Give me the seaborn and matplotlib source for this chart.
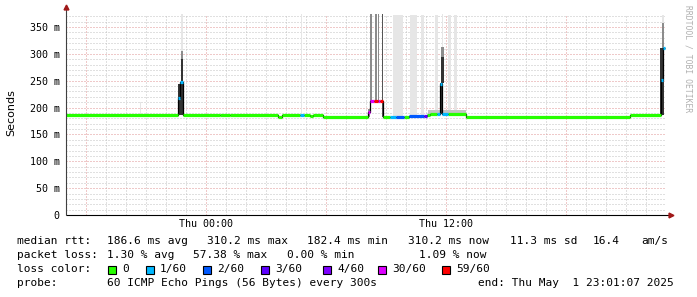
import matplotlib
matplotlib.use("Agg")
import matplotlib.pyplot as plt
from matplotlib.patches import Rectangle
import numpy as np
import pandas as pd
import seaborn as sns

# ---------------- data (hours relative to Thu 00:00, values in ms) ----------------
seg_start = [-6.98, -1.38, -1.28, -1.13, 0.72, 1.22, 3.60, 3.80, 4.70, 4.90, 5.20, 5.35,
             5.85, 8.10, 8.22, 8.40, 8.60, 8.70, 8.87, 9.20, 9.50, 9.90, 10.15, 10.90,
             11.05, 11.20, 11.55, 11.72, 11.82, 12.10, 13.02, 21.20, 22.75, 22.85]
seg_end = [-1.38, -1.28, -1.13, 0.72, 1.22, 3.60, 3.80, 4.70, 4.90, 5.20, 5.35, 5.85,
           8.10, 8.22, 8.40, 8.60, 8.70, 8.87, 9.20, 9.50, 9.90, 10.15, 10.90, 11.05,
           11.20, 11.55, 11.72, 11.82, 12.10, 13.02, 21.20, 22.75, 22.85, 22.95]
seg_ms = [186.6, 218, 248, 186.6, 185.5, 186.6, 183, 186.6, 186, 186.6, 184.5, 186.6,
          182.4, 192, 212, 212, 212, 212, 183, 182.5, 183, 183, 183.5, 184,
          187, 189, 188, 244, 188.5, 189, 182.2, 186.6, 251, 310.2]
seg_loss = ["0", "1/60", "1/60", "0", "0", "0", "0", "0", "1/60", "0", "0", "0",
            "0", "30/60", "30/60", "59/60", "30/60", "59/60", "0", "1/60", "2/60", "0", "2/60", "3/60",
            "0", "0", "1/60", "1/60", "1/60", "0", "0", "0", "1/60", "1/60"]

smoke_t = [-3.28, -1.40, -1.25, -1.25, -1.22, 4.75, 8.10, 8.22, 8.45, 8.62, 8.82,
           9.37, 10.22, 10.75, 11.47, 12.12, 12.42, 11.10, 11.70, 11.78, 11.78, 11.80,
           22.70, 22.82, 22.82]
smoke_w = [0.06, 0.18, 0.12, 0.12, 0.08, 0.06, 0.10, 0.12, 0.10, 0.07, 0.07,
           0.50, 0.35, 0.17, 0.15, 0.15, 0.15, 1.90, 0.17, 0.12, 0.12, 0.07,
           0.22, 0.12, 0.10]
smoke_lo = [186, 186, 186, 290, 305, 187, 183, 212, 212, 212, 183,
            184, 184, 184, 190, 190, 190, 189, 189, 246, 295, 312,
            186, 311, 357]
smoke_hi = [210, 244, 290, 305, 375, 375, 198, 375, 375, 375, 375,
            372, 372, 372, 372, 372, 372, 195, 246, 295, 312, 375,
            311, 357, 372]
smoke_shade = ["light", "dark", "dark", "mid", "light", "light", "mid", "mid", "mid", "mid", "dark2",
               "light", "light", "light", "light", "light", "light", "mid2", "dark", "dark", "mid", "light",
               "dark", "mid", "light"]

loss_labels = ["0", "1/60", "2/60", "3/60", "4/60", "30/60", "59/60"]
loss_colors = ["#26ff00", "#00b8ff", "#0059ff", "#5e00ff", "#7e00ff", "#dd00ff", "#ff0000"]

y_ticks = [0, 50, 100, 150, 200, 250, 300, 350]
y_tick_labels = ["0", "50 m", "100 m", "150 m", "200 m", "250 m", "300 m", "350 m"]
x_ticks = [0, 12]
x_tick_labels = ["Thu 00:00", "Thu 12:00"]

legend_rows = [
    ["median rtt:", "186.6 ms avg", "310.2 ms max", "182.4 ms min", "310.2 ms now", "11.3 ms sd", "16.4", "am/s"],
    ["packet loss:", "1.30 % avg", "57.38 % max", "0.00 % min", "1.09 % now"],
    ["probe:", "60 ICMP Echo Pings (56 Bytes) every 300s", "end: Thu May  1 23:01:07 2025"],
]

# ---------------- style ----------------
sns.set_theme(style="white")
plt.rcParams["font.family"] = ["DejaVu Sans Mono", "DejaVu Sans"]
plt.rcParams["lines.solid_capstyle"] = "butt"

W, H = 697, 297
fig = plt.figure(figsize=(W / 100, H / 100), dpi=100)
fig.patch.set_facecolor("white")
ax = fig.add_axes([66 / W, (H - 215) / H, 600 / W, 201 / H])
ax.set_facecolor("white")
ax.set_xlim(-6.98, 23.02)
ax.set_ylim(0, 374.3)

# grid
dots = (0, (1.0, 2.0))
for h in range(-6, 24):
    major = (h % 6 == 0)
    ax.axvline(h, color="#e09494" if major else "#c2c2c2", lw=0.72, ls=dots, zorder=0)
for v in range(10, 375, 10):
    major = (v % 50 == 0)
    ax.axhline(v, color="#e09494" if major else "#c2c2c2", lw=0.72, ls=dots, zorder=0)

# smoke
shade_map = {"light": "#e6e6e6", "mid": "#8c8c8c", "mid2": "#c4c4c4", "dark": "#333333", "dark2": "#555555"}
ax.bar(smoke_t, np.subtract(smoke_hi, smoke_lo), bottom=smoke_lo, width=smoke_w, align="edge",
       color=[shade_map[s] for s in smoke_shade], linewidth=0, zorder=2)

# median: thin black step line, then coloured segments by loss
step_df = pd.DataFrame({"t": seg_start + [seg_end[-1]], "ms": seg_ms + [seg_ms[-1]]})
sns.lineplot(data=step_df, x="t", y="ms", drawstyle="steps-post", color="black", lw=0.9,
             ax=ax, zorder=3, sort=False)
rows = []
for i, (a, b, v, l) in enumerate(zip(seg_start, seg_end, seg_ms, seg_loss)):
    rows.append({"t": a, "ms": v, "seg": i, "loss": l})
    rows.append({"t": b, "ms": v, "seg": i, "loss": l})
med_df = pd.DataFrame(rows)
sns.lineplot(data=med_df, x="t", y="ms", hue="loss", units="seg", estimator=None,
             hue_order=loss_labels, palette=dict(zip(loss_labels, loss_colors)),
             lw=2.3, legend=False, ax=ax, zorder=4, sort=False)

# axes
for s in ax.spines.values():
    s.set_visible(False)
ax.plot([0, 0], [0, 1.035], transform=ax.transAxes, color="#404040", lw=0.8, clip_on=False, zorder=5)
ax.plot([0, 1.008], [0, 0], transform=ax.transAxes, color="black", lw=0.8, clip_on=False, zorder=5)
ax.plot([0], [1.035], marker="^", ms=3.5, color="#a01818", transform=ax.transAxes, clip_on=False, zorder=6)
ax.plot([1.008], [0], marker=">", ms=3.5, color="#a01818", transform=ax.transAxes, clip_on=False, zorder=6)

ax.set_yticks(y_ticks)
ax.set_yticklabels(y_tick_labels)
ax.set_xticks(x_ticks)
ax.set_xticklabels(x_tick_labels)
ax.tick_params(axis="both", length=0, labelsize=7.2, labelcolor="black")
ax.tick_params(axis="y", pad=4.5)
ax.tick_params(axis="x", pad=3)
ax.set_xlabel("")
ax.set_ylabel("")

fig.text(11 / W, 1 - 113 / H, "Seconds", rotation=90, ha="center", va="center",
         fontsize=8, family="DejaVu Sans", color="black")
fig.text(688 / W, 1 - 5 / H, "RRDTOOL / TOBI OETIKER", rotation=270, ha="center", va="top",
         fontsize=5.8, color="#b0b0b0")

# legend text
def ftext(x, y, s, **kw):
    fig.text(x / W, 1 - y / H, s, ha="left", va="center", fontsize=8, color="black", **kw)

row1_x = [16.7, 107, 207, 307, 407.7, 510, 592.7, 641.7]
row2_x = [16.7, 107, 193, 286.7, 419]
row4_x = [16.7, 107, 478]
for x, s in zip(row1_x, legend_rows[0]):
    ftext(x, 241, s)
for x, s in zip(row2_x, legend_rows[1]):
    ftext(x, 255, s)
for x, s in zip(row4_x, legend_rows[2]):
    ftext(x, 283, s)

ftext(16.7, 269, "loss color:")
box_x = [108, 145.7, 203, 261, 322.7, 377.7, 441.7]
for bx, lab, col in zip(box_x, loss_labels, loss_colors):
    fig.add_artist(Rectangle((bx / W, 1 - 273.5 / H), 8 / W, 8 / H, transform=fig.transFigure,
                             facecolor=col, edgecolor="black", lw=0.8))
    ftext(bx + 14.5, 269, lab)

fig.savefig("out.png", dpi=100, facecolor="white")
